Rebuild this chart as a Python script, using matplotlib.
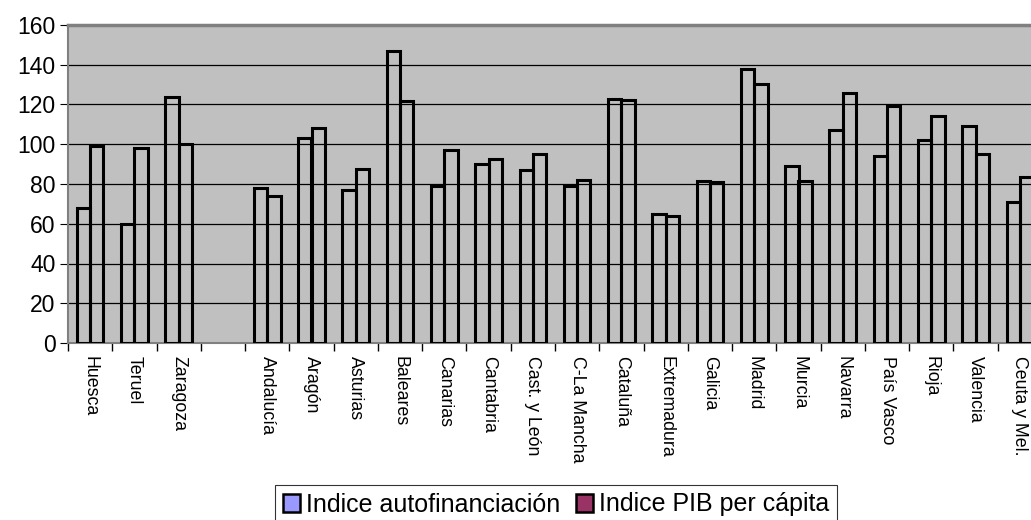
import matplotlib
matplotlib.use("Agg")
import matplotlib.pyplot as plt
import matplotlib.patches as mpatches
import numpy as np

plt.rcParams["font.family"] = ["Liberation Sans", "DejaVu Sans"]

# --- datos ---------------------------------------------------------------
categorias = [
    "Huesca", "Teruel", "Zaragoza", "",
    "Andalucía", "Aragón", "Asturias", "Baleares", "Canarias", "Cantabria",
    "Cast. y León", "C-La Mancha", "Cataluña", "Extremadura", "Galicia",
    "Madrid", "Murcia", "Navarra", "País Vasco", "Rioja", "Valencia",
    "Ceuta y Mel.",
]
autofinanciacion = [68, 60, 124, np.nan, 78, 103, 77, 147, 79, 90, 87, 79,
                    123, 65, 81.5, 138, 89, 107, 94, 102, 109, 71]
pib_per_capita = [99, 98, 100, np.nan, 74, 108, 87.5, 122, 97, 92.5, 95, 82,
                  122.5, 64, 81, 130.5, 81.5, 126, 119, 114, 95, 83.5]
serie_nombres = ["Indice autofinanciación", "Indice PIB per cápita"]
serie_colores = ["#9999FF", "#993366"]
titulo = "Indices (media nacional) e Indice PIB (media 100)"

# --- figura --------------------------------------------------------------
fig = plt.figure(figsize=(10.31, 5.20), dpi=100)
fig.patch.set_facecolor("white")
ax = fig.add_axes([68 / 1031, 1 - 343 / 520, (1042 - 68) / 1031, 318 / 520])
ax.set_facecolor("#C0C0C0")

x = np.arange(len(categorias))
w = 0.30
for off, vals in ((-w / 2, autofinanciacion), (w / 2, pib_per_capita)):
    ax.bar(x + off, vals, width=w, facecolor="none", edgecolor="black",
           linewidth=2.2, zorder=3)

ax.set_xlim(-0.5, len(categorias) - 0.5)
ax.set_ylim(0, 160)
ax.set_yticks(np.arange(0, 161, 20))
ax.yaxis.grid(True, color="black", linewidth=0.9, zorder=1)
ax.set_axisbelow(True)

# marcas entre categorías, etiquetas en el centro
ax.set_xticks(np.arange(-0.5, len(categorias) + 0.5, 1))
ax.set_xticklabels([])
ax.set_xticks(x, minor=True)
ax.set_xticklabels(categorias, minor=True, rotation=270, fontsize=12.8,
                   va="top", ha="center")
ax.tick_params(axis="x", which="major", direction="out", length=6,
               color="black", width=1)
ax.tick_params(axis="x", which="minor", length=0, pad=9)
ax.tick_params(axis="y", direction="out", length=6, labelsize=16.5,
               pad=3, color="black")

ax.spines["right"].set_visible(False)
ax.spines["top"].set_color("#808080")
ax.spines["top"].set_linewidth(2.5)
for s in ("left", "bottom"):
    ax.spines[s].set_color("#808080")
    ax.spines[s].set_linewidth(1.5)

# título (cortado en la parte superior, como en el original)
fig.text(0.516, 1 + 5 / 520, titulo, ha="center", va="baseline",
         fontsize=17, fontweight="bold")

# leyenda
handles = [mpatches.Patch(facecolor=c, edgecolor="black", linewidth=1.8,
                          label=n) for n, c in zip(serie_nombres, serie_colores)]
leg = fig.legend(handles=handles, loc="upper left",
                 bbox_to_anchor=(275 / 1031, 1 - 485 / 520), ncol=2,
                 fontsize=18, frameon=True, fancybox=False,
                 edgecolor="black", handlelength=0.7, handleheight=0.7,
                 handletextpad=0.25, columnspacing=0.6, borderpad=0.3,
                 borderaxespad=0)
leg.get_frame().set_linewidth(0.8)

fig.savefig("out.png", dpi=100, facecolor="white")
